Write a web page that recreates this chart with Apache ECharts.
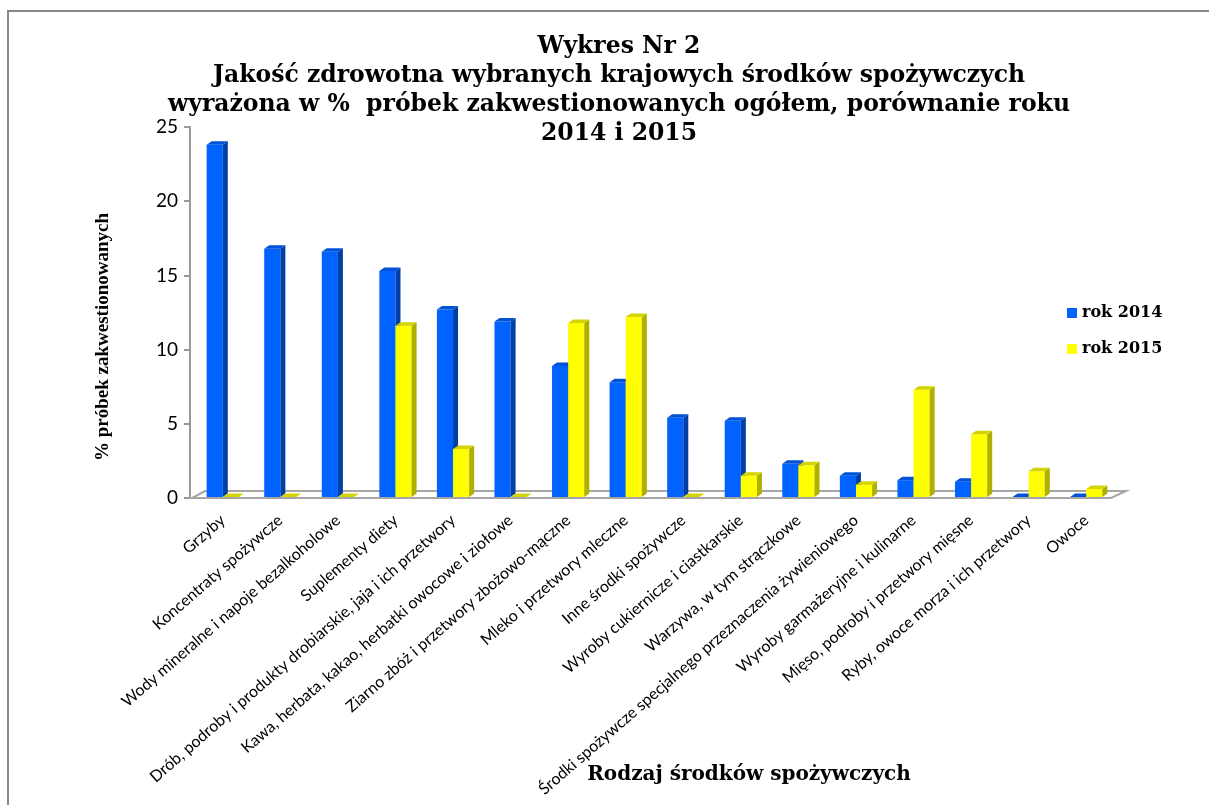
<!DOCTYPE html>
<html>
<head>
<meta charset="utf-8">
<script src="https://cdn.jsdelivr.net/npm/echarts@6/dist/echarts.min.js"></script>
<style>html,body{margin:0;padding:0;background:#fff;}#c{width:1209px;height:805px;}</style>
</head>
<body>
<div id="c"></div>
<script>
var categories = [
  "Grzyby",
  "Koncentraty spożywcze",
  "Wody mineralne i napoje bezalkoholowe",
  "Suplementy diety",
  "Drób, podroby i produkty drobiarskie, jaja i ich przetwory",
  "Kawa, herbata, kakao, herbatki owocowe i ziołowe",
  "Ziarno zbóż i przetwory zbożowo-mączne",
  "Mleko i przetwory mleczne",
  "Inne środki spożywcze",
  "Wyroby cukiernicze i ciastkarskie",
  "Warzywa, w tym strączkowe",
  "Środki spożywcze specjalnego przeznaczenia żywieniowego",
  "Wyroby garmażeryjne i kulinarne",
  "Mięso, podroby i przetwory mięsne",
  "Ryby, owoce morza i ich przetwory",
  "Owoce"
];
var rok2014 = [23.8, 16.8, 16.6, 15.3, 12.7, 11.9, 8.9, 7.8, 5.4, 5.2, 2.3, 1.5, 1.2, 1.1, 0, 0];
var rok2015 = [0, 0, 0, 11.6, 3.3, 0, 11.8, 12.2, 0, 1.5, 2.2, 0.9, 7.3, 4.3, 1.8, 0.6];
var yTicks = [0, 5, 10, 15, 20, 25];

var chart = echarts.init(document.getElementById('c'));

function makeBar(front, side, topc, left) {
  return function (params, api) {
    var idx = api.value(0), v = api.value(1);
    var base = api.coord([idx, 0]);
    var top = api.coord([idx, v]);
    var bw = api.size([1, 0])[0] * 0.28;
    var x0 = left ? base[0] - bw : base[0];
    var x1 = x0 + bw;
    var dx = 5, dy = 3.5;
    var yb = base[1] - 1, yt = Math.min(top[1], yb);
    var children = [];
    if (yb - yt > 0.5) {
      children.push({type: 'rect', shape: {x: x0, y: yt, width: bw, height: yb - yt}, style: {fill: front}});
      children.push({type: 'polygon', shape: {points: [[x1, yt], [x1 + dx, yt - dy], [x1 + dx, yb - dy], [x1, yb]]}, style: {fill: side}});
    }
    children.push({type: 'polygon', shape: {points: [[x0, yt], [x0 + dx, yt - dy], [x1 + dx, yt - dy], [x1, yt]]}, style: {fill: topc}});
    return {type: 'group', children: children};
  };
}

var option = {
  animation: false,
  backgroundColor: '#fff',
  title: {
    text: 'Wykres Nr 2\nJakość zdrowotna wybranych krajowych środków spożywczych\nwyrażona w %  próbek zakwestionowanych ogółem, porównanie roku\n2014 i 2015',
    left: 614, textAlign: 'center', top: 27,
    textStyle: {fontFamily: 'DejaVu Serif', fontWeight: 'bold', fontSize: 23.5, lineHeight: 29, color: '#000'}
  },
  legend: {
    orient: 'vertical', left: 1062, top: 300, itemWidth: 10, itemHeight: 10, itemGap: 20,
    icon: 'rect',
    data: ['rok 2014', 'rok 2015'],
    textStyle: {fontFamily: 'DejaVu Serif', fontWeight: 'bold', fontSize: 16, color: '#000'}
  },
  grid: {left: 194, right: 1209 - 1115, top: 127, bottom: 805 - 498, containLabel: false, outerBoundsMode: 'none'},
  xAxis: {
    type: 'category', data: categories,
    axisLine: {show: false}, axisTick: {show: false},
    axisLabel: {rotate: 41, interval: 0, margin: 20, fontFamily: 'Lato', fontSize: 16, color: '#000'}
  },
  yAxis: {
    type: 'value', min: 0, max: 25, interval: 5, offset: 4,
    axisLine: {show: true, lineStyle: {color: '#9a9a9a', width: 2}},
    axisTick: {show: true, length: 6, lineStyle: {color: '#9a9a9a', width: 2}},
    splitLine: {show: false},
    axisLabel: {margin: 12, fontFamily: 'Lato', fontSize: 19, color: '#000'}
  },
  graphic: [
    {type: 'rect', shape: {x: 8, y: 11, width: 1400, height: 1000}, style: {fill: 'none', stroke: '#888', lineWidth: 2}, z: 0},
    {type: 'text', x: 103, y: 337, rotation: Math.PI / 2, style: {text: '% próbek zakwestionowanych', fontFamily: 'Liberation Serif', fontWeight: 'bold', fontSize: 19, fill: '#000', align: 'center', verticalAlign: 'middle'}},
    {type: 'text', x: 749, y: 775, style: {text: 'Rodzaj środków spożywczych', fontFamily: 'DejaVu Serif', fontWeight: 'bold', fontSize: 20, fill: '#000', align: 'center', verticalAlign: 'middle'}}
  ],
  series: [
    {
      type: 'custom', name: 'floor', silent: true, z: 1,
      data: [[0]],
      renderItem: function (params, api) {
        var bw = api.size([1, 0])[0];
        var a = api.coord([0, 0]);
        var b = api.coord([categories.length - 1, 0]);
        var L = a[0] - bw / 2, R = b[0] + bw / 2, y = a[1];
        return {type: 'polygon', shape: {points: [[L - 2, y], [R - 4, y], [R + 11, y - 7], [L + 11, y - 7]]},
          style: {fill: '#fff', stroke: '#a6a6a6', lineWidth: 2}};
      },
      tooltip: {show: false}
    },
    {
      type: 'custom', name: 'rok 2014', z: 3,
      itemStyle: {color: '#0062ff'},
      data: rok2014.map(function (v, i) { return [i, v]; }),
      encode: {x: 0, y: 1},
      renderItem: makeBar('#0062ff', '#003fa6', '#0052d6', true)
    },
    {
      type: 'custom', name: 'rok 2015', z: 4,
      itemStyle: {color: '#ffff00'},
      data: rok2015.map(function (v, i) { return [i, v]; }),
      encode: {x: 0, y: 1},
      renderItem: makeBar('#ffff00', '#b0b000', '#d4d400', false)
    }
  ]
};
chart.setOption(option);
</script>
</body>
</html>
